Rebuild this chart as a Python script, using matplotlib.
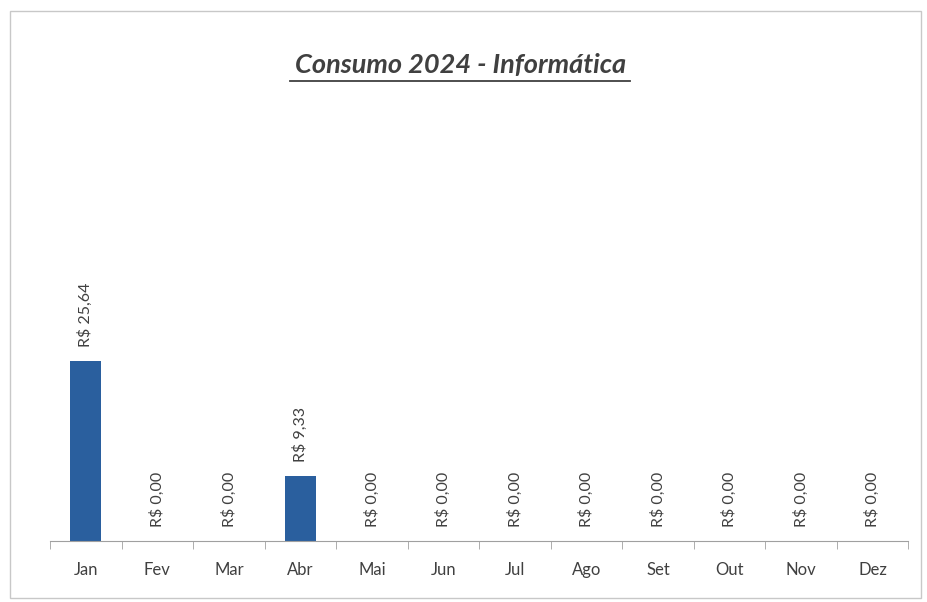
import matplotlib
matplotlib.use("Agg")
from matplotlib import pyplot as plt
from matplotlib.patches import Rectangle
import numpy as np

plt.rcParams['font.family'] = ['Lato', 'DejaVu Sans']

meses = ['Jan', 'Fev', 'Mar', 'Abr', 'Mai', 'Jun', 'Jul', 'Ago', 'Set', 'Out', 'Nov', 'Dez']
valores = [25.64, 0, 0, 9.33, 0, 0, 0, 0, 0, 0, 0, 0]

fig = plt.figure(figsize=(9.27, 6.02), dpi=100)
ax = fig.add_axes([0.054, 0.101, 0.926, 0.733])

# moldura do grafico
fig.patches.append(Rectangle((0.011, 0.007), 0.982, 0.975, transform=fig.transFigure,
                             fill=False, edgecolor='#c8c8c8', linewidth=1))

x = np.arange(len(meses))
bars = ax.bar(x, valores, width=0.43, color='#2a5f9e')

for b, v in zip(bars, valores):
    txt = 'R$ ' + f'{v:.2f}'.replace('.', ',')
    ax.annotate(txt, (b.get_x() + b.get_width() / 2, v), xytext=(0, 10),
                textcoords='offset points', rotation=90, ha='center', va='bottom',
                fontsize=11.5, color='#404040')

ax.set_xlim(-0.5, len(meses) - 0.5)
ax.set_ylim(0, 62.8)
ax.set_xticks(x)
ax.set_xticklabels(meses, fontsize=12, color='#404040')
ax.set_xticks(np.arange(-0.5, len(meses)), minor=True)
ax.tick_params(axis='x', which='major', length=0, pad=15)
ax.tick_params(axis='x', which='minor', length=6, color='#a0a0a0', direction='out')
ax.set_yticks([])
for s in ['top', 'right', 'left']:
    ax.spines[s].set_visible(False)
ax.spines['bottom'].set_color('#a0a0a0')

fig.text(0.497, 0.879, 'Consumo 2024 - Informática', ha='center', va='baseline',
         fontsize=19.5, fontweight='bold', fontstyle='italic', color='#404040')
# sublinhado do titulo
fig.add_artist(plt.Line2D([0.313, 0.680], [0.866, 0.866], color='#404040', linewidth=1.3))

fig.savefig('out.png', dpi=100)
